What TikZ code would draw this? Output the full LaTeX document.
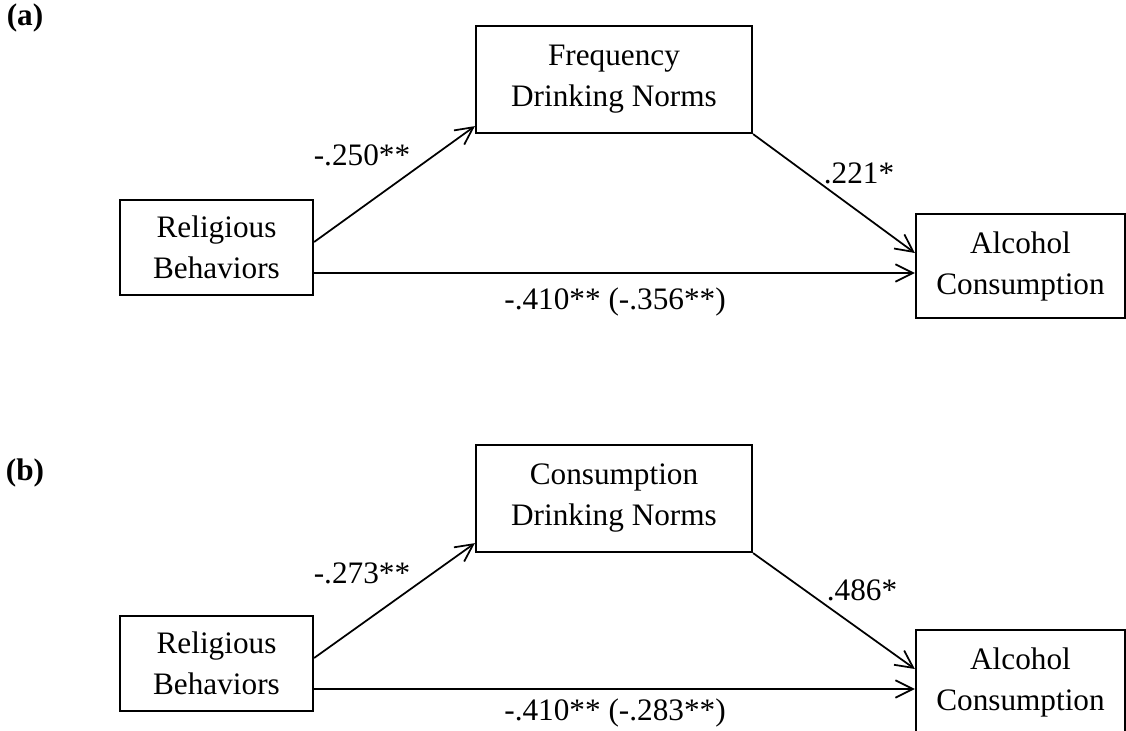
\documentclass[tikz,border=0pt]{standalone}
\usepackage{fontspec}
\setmainfont{Liberation Serif}
\usetikzlibrary{arrows.meta}

\begin{document}
\begin{tikzpicture}[x=0.4pt, y=-0.4pt,
        font=\fontsize{12.5}{16.4}\selectfont,
        varbox/.style={draw, line width=0.9pt, align=center, inner sep=0pt},
        predbox/.style={varbox, minimum width=77.2pt, minimum height=38pt},
        normbox/.style={varbox, minimum width=110.4pt, minimum height=42.8pt},
        outbox/.style={varbox, minimum width=83.6pt, minimum height=41.6pt},
        effect/.style={line width=0.7pt, -{Straight Barb[length=7pt,width=7pt]}},
        coef/.style={inner sep=0pt},
        panel/.style={inner sep=0pt, font=\fontsize{12.5}{16.4}\selectfont\bfseries}]

        % Size of the figure
        \clip (0,0) rectangle (1126,731);

        % Panel (a): frequency norms
        \node[panel] (laba) at (25,18) {(a)};
        \node[predbox] (rela) at (216.5,247.5) {Religious\\Behaviors};
        \node[normbox] (freqa) at (614,79.5) {Frequency\\Drinking Norms};
        \node[outbox] (alca) at (1020.5,266) {Alcohol\\Consumption};

        \draw[effect] ([yshift=2.2pt]rela.east) -- ([yshift=3.2pt]freqa.south west);
        \draw[effect] (freqa.south east) -- ([yshift=5.2pt]alca.west);
        \coordinate (ha) at ([yshift=-10.2pt]rela.east);
        \draw[effect] (ha) -- (ha -| alca.west);

        \node[coef] (ca1) at (362,155) {-.250**};
        \node[coef] (ca2) at (859,173) {.221*};
        \node[coef] (ca3) at (615,302) {-.410** (-.356**)};

        % Panel (b): consumption norms
        \node[panel] (labb) at (25,473) {(b)};
        \node[predbox] (relb) at (216.5,663.5) {Religious\\Behaviors};
        \node[normbox] (consb) at (614,498.5) {Consumption\\Drinking Norms};
        \node[outbox] (alcb) at (1020.5,682) {Alcohol\\Consumption};

        \draw[effect] ([yshift=2.2pt]relb.east) -- ([yshift=4pt]consb.south west);
        \draw[effect] (consb.south east) -- ([yshift=5.2pt]alcb.west);
        \coordinate (hb) at ([yshift=-10.2pt]relb.east);
        \draw[effect] (hb) -- (hb -| alcb.west);

        \node[coef] (cb1) at (362,573) {-.273**};
        \node[coef] (cb2) at (862,590) {.486*};
        \node[coef] (cb3) at (615,713) {-.410** (-.283**)};
\end{tikzpicture}
\end{document}
